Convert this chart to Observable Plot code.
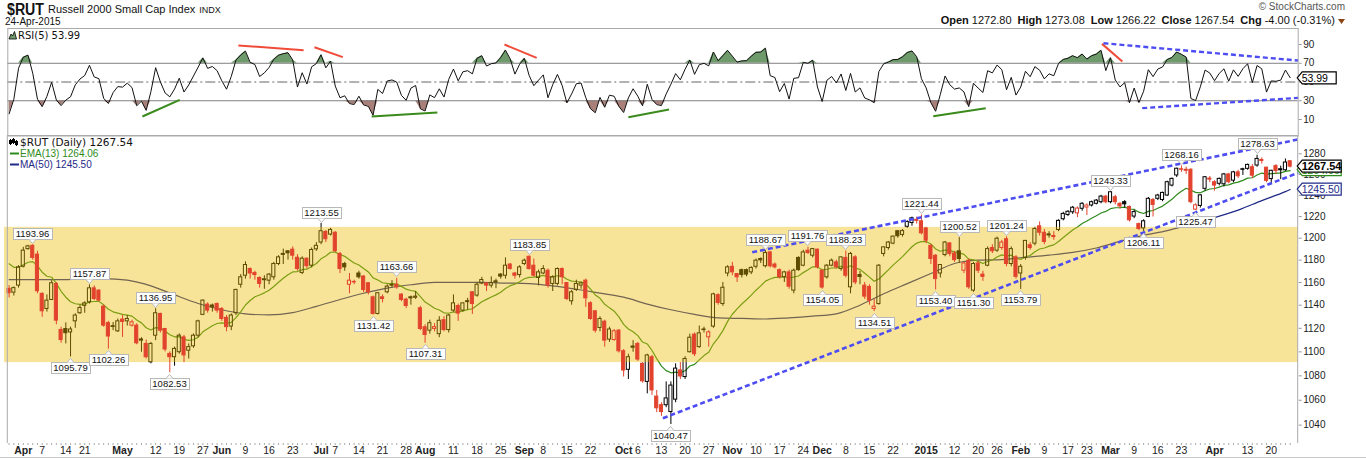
<!DOCTYPE html>
<html>
<head>
<meta charset="utf-8">
<script src="https://cdn.jsdelivr.net/npm/d3@7"></script>
<script src="https://cdn.jsdelivr.net/npm/@observablehq/plot@0.6"></script>
<style>
html,body{margin:0;padding:0;background:#fff;}
#wrap{position:relative;width:1366px;height:459px;overflow:hidden;background:#fff;}
#main,#rsi,#head{position:absolute;left:0;}
#main{top:130px;} #rsi{top:0;} #head{top:0;}
</style>
</head>
<body>
<div id="wrap"><div id="main"></div><div id="rsi"></div><div id="head"></div></div>
<script>
// ---------------- DATA ----------------
const symbol = "$RUT";
const indexName = "Russell 2000 Small Cap Index";
const exchange = "INDX";
const asOf = "24-Apr-2015";
const credit = "\u00A9 StockCharts.com";
const tradingStart = "2014-03-27";
const tradingEnd = "2015-04-24";
const holidays = ["2014-04-18","2014-05-26","2014-07-04","2014-09-01","2014-11-27","2014-12-25","2015-01-01","2015-01-19","2015-02-16","2015-04-03"];

const opens = [1154.3,1151,1157.2,1174,1190,1193,1185,1149.9,1136.7,1144.6,
1158.7,1118.6,1119.4,1116.5,1126,1133,1139.4,1142.5,1154.8,1152.8,
1138.8,1124.5,1121.8,1117.4,1127.5,1126,1122.3,1122.3,1110.5,1106.7,
1091.3,1113.7,1132.4,1119.4,1098.3,1095.5,1099.7,1112.3,1101,1104.7,
1113.7,1131.6,1140.5,1139.7,1141,1136.7,1129,1121.5,1133,1158,
1166,1172,1168.5,1164,1162.8,1161.6,1164.6,1176.5,1185.6,1188,
1189.5,1182.2,1168.5,1181.3,1175,1189.8,1196,1205.7,1203.3,1205,
1185.6,1176.5,1158,1160.5,1168,1165.3,1159.3,1146.9,1132.4,1146.9,
1151.3,1157.8,1158,1149.3,1144.9,1146.9,1146.5,1137.3,1120.9,1118,
1119.5,1115,1127,1118.5,1135.3,1139.3,1135.3,1143.5,1151.3,1148.4,
1159,1159,1157.2,1161,1167,1166,1176,1168,1166.6,1176.5,
1183,1175,1164,1168,1170.5,1158.7,1158.7,1172,1159.5,1143.4,
1153.4,1157.2,1161.6,1141.7,1134.7,1120.3,1125.7,1110.4,1110,1118,
1100.5,1085,1104.5,1106.7,1090,1075,1095.5,1063,1056,1056,
1050.5,1060.5,1084.5,1079,1099.7,1114.6,1104,1119,1112.3,1121.5,
1148.8,1141,1168,1174,1167.5,1171,1171,1169,1174,1181,
1174.5,1187,1176,1171,1164.6,1169,1152.8,1182,1175,1188.6,
1184,1189.5,1170.5,1164.6,1175,1178,1172,1182,1155.7,1182.5,
1166.6,1157.2,1156,1136.7,1141,1185.6,1191,1195,1206.4,1203,
1210.5,1214,1217,1215.6,1209,1193,1184,1168,1184.6,1195.2,
1186,1188,1170.5,1179.5,1152.8,1177,1167,1175,1191,1188.6,
1191,1199,1176.5,1182.5,1168,1182,1193.5,1195,1211,1205,
1203.5,1202,1207.5,1217.5,1221.5,1224,1223,1227.3,1228.5,1230.4,
1232,1233.5,1238.8,1233.5,1238.2,1232,1233.5,1229,1220,1213,
1209,1219.6,1235.6,1236.7,1235.6,1239.8,1249.3,1259,1265,1264.5,
1264.5,1226.5,1230,1246.2,1256,1252.5,1251,1250.5,1260,1254,
1262,1265,1265.4,1267,1268.6,1274,1266.5,1255.5,1268,1265,
1264,1272.80];

const highs = [1157.2,1156,1175,1191.6,1193.5,1193.96,1188,1151,1149,1161.6,
1160,1121,1124.7,1121,1132.5,1140,1143,1157.87,1157,1153.5,
1140,1126,1125,1128,1131,1131,1127,1124,1112,1110,
1108,1136.95,1133,1120,1100,1104,1115.2,1114,1106.7,1115.2,
1127,1144.6,1142,1141,1142,1138,1131,1132.4,1154,1167,
1178.5,1173,1170,1165,1166,1168,1178,1184,1190,1188.6,
1192,1185,1183,1182,1191,1196,1213.55,1207,1209,1206,
1187,1178,1168,1162,1170,1166,1160,1148,1151,1149,
1158,1161.6,1163.66,1150,1146,1148,1152,1139,1123,1127,
1124,1130,1130,1132,1149,1141,1142,1146,1152,1160,
1164.6,1160,1165,1163,1168,1182,1177,1169,1175,1181,
1183.85,1181,1171,1175,1172,1166,1173,1173,1160,1153,
1162,1160,1163,1143,1135,1130,1127,1121,1119,1119,
1102,1098,1109.5,1108,1091,1098,1097,1068,1058,1075,
1075,1090,1091,1096,1115,1116,1122,1121,1118,1150.5,
1150,1160,1175,1178,1168,1172,1172,1174,1181,1182,
1188.67,1188,1177.5,1172,1170,1171,1172,1183,1189,1191.76,
1190.5,1190,1171,1176,1181,1180,1183,1188.23,1187,1184,
1170,1160,1158,1145,1176,1192,1197,1202,1207,1208,
1216,1219.5,1219.5,1221.44,1210,1194,1185,1176,1197,1196,
1188,1200.52,1178,1181,1178,1179,1170,1192,1194,1201,
1198,1201.24,1192,1184,1176,1198,1196,1210,1215,1208,
1206,1206,1217,1224,1225.5,1229.5,1229,1233,1232,1234.5,
1236,1240,1240,1243.33,1240,1233,1235,1230,1226,1214,
1217,1238,1237,1241,1243,1253.5,1256.5,1266,1268.16,1267,
1265.5,1232,1240.5,1258,1258,1254,1256.5,1261,1261,1263,
1264,1266,1270,1269.5,1278.63,1276,1267,1264,1269.5,1268,
1275,1273.08];

const lows = [1146.4,1148,1155,1173,1189,1180,1150,1129.5,1134,1144,
1123,1107.3,1106.7,1095.79,1120,1132,1133,1141,1144,1143,
1121,1102.26,1118,1116.5,1112.3,1122,1121,1106,1099.7,1094,
1090,1109.5,1116,1100,1082.53,1088,1098,1091,1094,1103,
1112,1131,1133,1134,1133,1126,1117,1118,1131,1155,
1163,1163,1162,1155,1154,1158,1162,1175,1176,1180,
1180,1170,1167,1172,1173,1188,1194,1196,1202,1187,
1168,1170,1150,1158,1163,1151,1149,1131.42,1131.5,1142,
1150,1155,1154,1143,1137,1140,1145,1118,1107.31,1115,
1117,1112,1117,1116,1134,1126,1134,1136,1132,1147,
1158,1152,1155,1154.5,1163,1163,1171,1163,1164,1175,
1171,1164.6,1157,1167,1155,1152,1157,1158,1144,1140,
1152,1154,1138,1127,1116,1117,1104,1108,1109,1099,
1079,1077,1099.7,1092,1074,1065.2,1064,1050,1047,1054,
1040.47,1058,1077,1077,1099,1096,1103,1116,1104,1120,
1140,1139,1165,1166,1160,1164,1165,1167,1172,1177,
1173,1173,1172,1163,1160,1154,1150,1170,1174,1185,
1182,1172,1154.05,1163,1174,1172,1170,1164,1150,1158,
1158,1145,1140,1134.51,1140,1183,1189,1194,1200,1201,
1209,1211,1213,1203,1195,1176,1153.40,1164,1183,1183,
1178,1177,1168,1154,1151.30,1168,1161,1174,1186,1187,
1189,1174,1174,1163,1153.79,1180,1189,1193,1202,1194,
1200,1198,1206,1216,1220,1222,1219,1225,1221,1229,
1231,1232,1232,1232,1231,1227,1228,1215,1218,1207,
1206.11,1219,1219.6,1235,1234,1239,1248,1257,1262,1260,
1232,1225.47,1228,1244,1252,1244,1249,1248,1251,1252,
1256,1259,1264,1256,1267,1270,1252,1251,1260,1255,
1263,1266.22];

const closes = [1150.5,1155,1173.5,1188.6,1192.5,1182,1152.2,1134.7,1144,1159.3,
1126.6,1110,1115.8,1119,1131,1137.6,1141.6,1154.8,1145.4,1144,
1122.3,1113,1121.2,1126,1125.5,1128,1125.2,1107.2,1109.5,1095.5,
1106.7,1133,1118,1102,1095.5,1102.5,1113.7,1097,1104,1113.7,
1126,1144,1135.3,1138.2,1135.3,1128,1121,1131,1153.4,1164.6,
1175.6,1168,1166.6,1158.7,1162,1167,1176.5,1182.5,1184.8,1186.2,
1184,1172,1181.3,1174.5,1189.2,1193,1206.4,1199,1207.6,1188,
1172,1173.5,1161.6,1160,1164.6,1153.4,1151.3,1132.4,1150.5,1145.4,
1156.3,1157.2,1155.7,1144.6,1139.3,1146,1147.5,1119.4,1114.3,1124.4,
1121,1126.5,1118.5,1131,1141.6,1132.7,1141.6,1142.7,1141,1158,
1162.2,1157.2,1159.5,1160.2,1165.2,1175,1172,1166,1173.5,1179.5,
1172,1166,1169,1172,1157.2,1164.6,1172,1164.6,1145.4,1151.3,
1158.7,1159.2,1146,1128,1118,1128,1109.5,1119,1117.5,1100.5,
1084.4,1095.5,1103.5,1093.5,1075.5,1097,1068,1053.5,1050.5,1061.5,
1072,1086,1079.5,1094,1112,1098,1115.7,1118.5,1116.5,1149.5,
1142,1155.3,1173.5,1169,1164.6,1166.6,1167,1173,1179.5,1179.8,
1186.5,1174.5,1173.5,1164.6,1169,1156.3,1170.5,1171,1187,1186.5,
1190,1173.5,1155.5,1175,1179.5,1173.5,1182.5,1166,1185.6,1160,
1164.8,1147.5,1144,1138.7,1175,1191.6,1196,1201.4,1201.8,1206.5,
1215,1218.4,1216,1204.5,1197.7,1181,1163,1175.6,1196,1185.5,
1180,1181,1177,1155.7,1176.5,1170.5,1165,1190,1188,1199.5,
1196,1176.5,1190,1165,1174,1197.5,1191,1208.5,1205,1196.5,
1202.5,1201,1216,1222.5,1224.5,1228.3,1227.5,1232,1230.4,1233.5,
1235,1238.8,1233.5,1242.9,1233.5,1229.5,1231.5,1216.5,1224.2,1208.5,
1215.6,1236.7,1230.9,1239.8,1242.3,1252.5,1255.7,1265.5,1264.5,1263.5,
1233.5,1230.5,1240,1257.3,1255,1249.3,1255.7,1260,1252.5,1262,
1258.2,1264.5,1269.2,1258.8,1275,1273,1253.8,1263.5,1263.2,1264,
1271.54,1267.54];

// 50-day moving average (every 5th session)
const maIndex = [0,5,10,15,20,25,30,35,40,45,50,55,60,65,70,75,80,85,90,95,100,105,110,115,120,125,130,135,140,145,150,155,160,165,170,175,180,185,190,195,200,205,210,215,220,225,230,235,240,245,250,255,260,265,270,271];
const maValues = [1162.5,1162.5,1162.5,1163,1163.5,1162,1157,1149,1141.5,1136,1132.5,1131.5,1133.5,1139,1145,1150.5,1155,1158,1160,1160,1160,1159.5,1159,1157,1154,1150.5,1147,1141,1136,1132,1129,1128.5,1128,1129,1130.5,1132.5,1140,1150,1159,1168,1177,1180,1180.5,1182.5,1184.5,1187,1191,1197,1202.5,1207,1213,1219,1226,1235,1243.5,1245.5];

const emaSeed = 1181;            // EMA(13) level just before the first session
const rsiSeedGain = 0.8, rsiSeedLoss = 4.2;
const emaLast = 1264.06, maLast = 1245.50, rsiLast = 53.99;
const bandLow = 1091, bandHigh = 1210;
const priceTicks = [1040,1060,1080,1100,1120,1140,1160,1180,1200,1220,1240,1260,1280];
const rsiTicks = [10,30,50,70,90];
const rsiBands = [30,70];

const tickDates = ["2014-04-01","2014-04-07","2014-04-14","2014-04-21","2014-05-01","2014-05-12","2014-05-19","2014-05-27","2014-06-02","2014-06-09","2014-06-16","2014-06-23","2014-07-01","2014-07-07","2014-07-14","2014-07-21","2014-07-28","2014-08-01","2014-08-11","2014-08-18","2014-08-25","2014-09-02","2014-09-08","2014-09-15","2014-09-22","2014-10-01","2014-10-06","2014-10-13","2014-10-20","2014-10-27","2014-11-03","2014-11-10","2014-11-17","2014-11-24","2014-12-01","2014-12-08","2014-12-15","2014-12-22","2015-01-02","2015-01-12","2015-01-20","2015-01-26","2015-02-02","2015-02-09","2015-02-17","2015-02-23","2015-03-02","2015-03-09","2015-03-16","2015-03-23","2015-04-01","2015-04-13","2015-04-20"];
const tickLabels = ["Apr","7","14","21","May","12","19","27","Jun","9","16","23","Jul","7","14","21","28","Aug","11","18","25","Sep","8","15","22","Oct","6","13","20","27","Nov","10","17","24","Dec","8","15","22","2015","12","20","26","Feb","9","17","23","Mar","9","16","23","Apr","13","20"];

const annIdx = [5,13,17,21,31,34,66,77,82,88,110,140,160,169,172,177,183,193,196,201,204,211,214,233,240,248,251,264];
const annVal = [1193.96,1095.79,1157.87,1102.26,1136.95,1082.53,1213.55,1131.42,1163.66,1107.31,1183.85,1040.47,1188.67,1191.76,1154.05,1188.23,1134.51,1221.44,1153.40,1200.52,1151.30,1201.24,1153.79,1243.33,1206.11,1268.16,1225.47,1278.63];
const annSide = ["above","below","above","below","above","below","above","below","above","below","above","below","above","above","below","above","below","above","below","above","below","above","below","above","below","above","below","above"];

// trend lines on price (session index, price)
const trendX1 = [138.3, 157.2], trendY1 = [1045.5, 1187.1];
const trendX2 = [272.7, 272.7], trendY2 = [1261.5, 1294.2];
// RSI divergence lines (session index, RSI)
const redX1 = [48.5, 64.6, 104.8, 231.2], redY1 = [89, 87.1, 90, 90.7];
const redX2 = [62.3, 70.6, 111.6, 235.5], redY2 = [84, 76.5, 75.8, 71.9];
const greenX1 = [28.2, 76.7, 131, 195.5], greenY1 = [13.2, 13.2, 12.5, 13.5];
const greenX2 = [36.1, 90.6, 139.6, 206.6], greenY2 = [31, 17.5, 20.7, 22];
const blueX1 = [231.5, 239.7], blueY1 = [91.4, 22.1];
const blueX2 = [272.7, 272.7], blueY2 = [72.9, 33.1];

// ---------------- LAYOUT ----------------
const W = 1366;
const plotLeft = 7.3, plotRight = 1297.7;
const xDomain = [-0.275, 272.7];
const yDomain = [1025.5, 1297.4];
const rsiDomain = [-7.6, 107.1];
const RED = "#e2432d", GREEN = "#2f8a1c", NAVY = "#1f2a88", BLUE = "#4d4df2";
const FONT = "'Liberation Sans', Arial, sans-serif";

// ---------------- DERIVED ----------------
const hol = new Set(holidays);
const fmt = d3.utcFormat("%Y-%m-%d");
const days = d3.utcDays(new Date(tradingStart), d3.utcDay.offset(new Date(tradingEnd), 1))
  .filter(d => d.getUTCDay() !== 0 && d.getUTCDay() !== 6 && !hol.has(fmt(d)));
const dayIndex = new Map(days.map((d, i) => [fmt(d), i]));

const candles = closes.map((c, i) => {
  const o = opens[i];
  const prev = i ? closes[i - 1] : o;
  return {i, o, h: highs[i], l: lows[i], c, top: Math.max(o, c), bot: Math.min(o, c), hollow: c >= o, red: c < prev};
});
const blackHollow = candles.filter(d => !d.red && d.hollow);
const blackFilled = candles.filter(d => !d.red && !d.hollow);
const redHollow = candles.filter(d => d.red && d.hollow);
const redFilled = candles.filter(d => d.red && !d.hollow);
const blackC = candles.filter(d => !d.red), redC = candles.filter(d => d.red);

const k = 2 / 14;
let e = emaSeed;
const emaRows = closes.map((c, i) => ({i, v: (e = e + k * (c - e))}));
const maRows = maIndex.map((i, j) => ({i, v: maValues[j]}));

let ag = rsiSeedGain, al = rsiSeedLoss;
const rsiRows = closes.map((c, i) => {
  if (i > 0) {
    const ch = c - closes[i - 1];
    ag = (ag * 4 + Math.max(ch, 0)) / 5;
    al = (al * 4 + Math.max(-ch, 0)) / 5;
  }
  return {i, r: al === 0 ? 100 : 100 - 100 / (1 + ag / al)};
});

const ticks = tickDates.map((d, j) => ({i: dayIndex.get(d), label: tickLabels[j], bold: isNaN(+tickLabels[j]) || tickLabels[j].length === 4}));
const trendRows = trendX1.map((x, j) => ({x1: x, y1: trendY1[j], x2: trendX2[j], y2: trendY2[j]}));
const mk = (X1, Y1, X2, Y2) => X1.map((x, j) => ({x1: x, y1: Y1[j], x2: X2[j], y2: Y2[j]}));
const bw = 0.33;

// ---------------- MAIN PRICE PANEL ----------------
const main = Plot.plot({
  width: W, height: 329,
  marginTop: 5.7, marginBottom: 16, marginLeft: plotLeft, marginRight: W - plotRight,
  x: {domain: xDomain},
  y: {type: "log", domain: yDomain},
  style: {background: "transparent", fontFamily: FONT, fontSize: "10px", color: "#222", overflow: "visible"},
  marks: [
    Plot.line(maRows, {x: "i", y: "v", stroke: NAVY, strokeWidth: 1.2, curve: "monotone-x"}),
    Plot.line(emaRows, {x: "i", y: "v", stroke: GREEN, strokeWidth: 1.2}),
    Plot.ruleX(blackC, {x: "i", y1: "top", y2: "h", stroke: "#000"}),
    Plot.ruleX(blackC, {x: "i", y1: "l", y2: "bot", stroke: "#000"}),
    Plot.rect(blackHollow, {x1: d => d.i - bw, x2: d => d.i + bw, y1: "bot", y2: "top", fill: "none", stroke: "#000"}),
    Plot.rect(blackFilled, {x1: d => d.i - bw, x2: d => d.i + bw, y1: "bot", y2: "top", fill: "#000", stroke: "#000"}),
    Plot.rect([{y1: bandLow, y2: bandHigh}], {x1: () => xDomain[0] - 0.7, x2: () => xDomain[1], y1: "y1", y2: "y2", fill: "#eebb00", fillOpacity: 0.4, ariaLabel: "band"}),
    Plot.ruleX(redC, {x: "i", y1: "top", y2: "h", stroke: RED}),
    Plot.ruleX(redC, {x: "i", y1: "l", y2: "bot", stroke: RED}),
    Plot.rect(redHollow, {x1: d => d.i - bw, x2: d => d.i + bw, y1: "bot", y2: "top", fill: "none", stroke: RED}),
    Plot.rect(redFilled, {x1: d => d.i - bw, x2: d => d.i + bw, y1: "bot", y2: "top", fill: RED, stroke: RED}),
    Plot.link(trendRows, {x1: "x1", y1: "y1", x2: "x2", y2: "y2", stroke: BLUE, strokeWidth: 2.6, strokeDasharray: "5,3"}),
    Plot.axisY(priceTicks, {anchor: "right", tickSize: 3, tickPadding: 2, label: null, stroke: "#999", fill: "#222", fontSize: 10, tickFormat: d => String(d)}),
    Plot.axisX(d3.range(closes.length), {tickSize: 2, tickFormat: () => "", label: null, stroke: "#aaa"}),
    Plot.text(ticks.filter(d => d.bold), {x: "i", text: "label", frameAnchor: "bottom", lineAnchor: "top", dy: 3.5, fontWeight: "bold", fontSize: 10.5, fill: "#222"}),
    Plot.text(ticks.filter(d => !d.bold), {x: "i", text: "label", frameAnchor: "bottom", lineAnchor: "top", dy: 3.5, fontSize: 10.5, fill: "#222"})
  ]
});
document.getElementById("main").appendChild(main);

function scaleFn(chart, name, fallback) {
  try { const s = chart.scale(name); if (s && typeof s.apply === "function") return v => s.apply(v); } catch (err) {}
  return fallback;
}
const sx = scaleFn(main, "x", d3.scaleLinear(xDomain, [plotLeft, plotRight]));
const sy = scaleFn(main, "y", d3.scaleLog(yDomain, [313, 5.7]));

// value labels (drawn beneath the translucent band)
const svgM = d3.select(main);
const bandNode = main.querySelector('[aria-label="band"]');
const lg = d3.create("svg:g").attr("font-family", FONT).attr("font-size", 9.5).attr("text-anchor", "middle");
annIdx.forEach((idx, j) => {
  const val = annVal[j], side = annSide[j];
  const x = Math.round(sx(idx)) + 0.5, y = sy(val);
  const txt = val.toFixed(2);
  const w = Math.round((txt.length - 1) * 5.28 + 2.64 + 5);
  const h = 11, gap = 5.5;
  const top = Math.round(side === "above" ? y - gap - h : y + gap) + 0.5;
  const g = lg.append("g");
  g.append("rect").attr("x", Math.round(x - w / 2) + 0.5).attr("y", top).attr("width", w).attr("height", h)
    .attr("fill", "#fff").attr("stroke", "#b8b8b8");
  if (side === "above") {
    const b = top + h;
    g.append("path").attr("d", `M${x - 3.5},${b} L${x},${b + 4} L${x + 3.5},${b}`).attr("fill", "#fff").attr("stroke", "#b8b8b8");
  } else {
    g.append("path").attr("d", `M${x - 3.5},${top} L${x},${top - 4} L${x + 3.5},${top}`).attr("fill", "#fff").attr("stroke", "#b8b8b8");
  }
  g.append("text").attr("x", x).attr("y", top + 8.7).attr("text-anchor", "middle").attr("fill", "#111").text(txt);
});
if (bandNode) main.insertBefore(lg.node(), bandNode); else main.appendChild(lg.node());

// frame lines
const fr = svgM.append("g").attr("stroke", "#aaa").attr("fill", "none");
fr.append("line").attr("x1", plotLeft).attr("x2", plotRight).attr("y1", 5.5).attr("y2", 5.5);
fr.append("line").attr("x1", plotLeft).attr("x2", plotLeft).attr("y1", 5.5).attr("y2", 313);
fr.append("line").attr("x1", plotRight).attr("x2", plotRight).attr("y1", 5.5).attr("y2", 313);
fr.append("line").attr("x1", 0).attr("x2", W).attr("y1", 327.5).attr("y2", 327.5).attr("stroke", "#c8c8c8");

// legend
const leg = svgM.append("g").attr("font-family", FONT).attr("text-anchor", "start");
const ci = leg.append("g").attr("stroke", "#000").attr("fill", "#000");
[[10.5, 9, 15], [13.5, 8, 14], [16.5, 10, 16]].forEach(([x, a, b]) => {
  ci.append("line").attr("x1", x).attr("x2", x).attr("y1", a).attr("y2", b);
  ci.append("rect").attr("x", x - 1).attr("y", a + 1.5).attr("width", 2).attr("height", 3);
});
leg.append("text").attr("x", 20).attr("y", 16).attr("text-anchor", "start").attr("font-family", "'DejaVu Sans', sans-serif").attr("font-size", 10.5).attr("fill", "#111")
  .text(`${symbol} (Daily) ${closes[closes.length - 1].toFixed(2)}`);
leg.append("line").attr("x1", 10).attr("x2", 19).attr("y1", 23.5).attr("y2", 23.5).attr("stroke", GREEN).attr("stroke-width", 2);
leg.append("text").attr("x", 20).attr("y", 27).attr("text-anchor", "start").attr("font-size", 10).attr("fill", GREEN).text(`EMA(13) ${emaLast.toFixed(2)}`);
leg.append("line").attr("x1", 10).attr("x2", 19).attr("y1", 34.5).attr("y2", 34.5).attr("stroke", NAVY).attr("stroke-width", 2);
leg.append("text").attr("x", 20).attr("y", 38).attr("text-anchor", "start").attr("font-size", 10).attr("fill", NAVY).text(`MA(50) ${maLast.toFixed(2)}`);

// right-side value tags
function tag(sel, y, text, stroke, color, bold, w) {
  const x0 = plotRight - 0.5, h = 12;
  const g = sel.append("g").attr("text-anchor", "start");
  g.append("path").attr("d", `M${x0},${y} L${x0 + 5},${y - h / 2} L${x0 + w},${y - h / 2} L${x0 + w},${y + h / 2} L${x0 + 5},${y + h / 2} Z`)
    .attr("fill", "#fff").attr("stroke", stroke).attr("stroke-width", 1.2);
  g.append("text").attr("x", x0 + 4.5).attr("y", y + 4).attr("text-anchor", "start").attr("font-family", FONT).attr("font-size", bold ? 11 : 10.5)
    .attr("font-weight", bold ? "bold" : "normal").attr("fill", color).text(text);
}
tag(svgM, sy(emaLast), emaLast.toFixed(2), GREEN, GREEN, false, 44);
tag(svgM, sy(closes[closes.length - 1]), closes[closes.length - 1].toFixed(2), "#000", "#000", true, 44);
tag(svgM, sy(maLast), maLast.toFixed(2), NAVY, NAVY, false, 44);

// ---------------- RSI PANEL ----------------
const rsiPlot = Plot.plot({
  width: W, height: 136,
  marginTop: 28, marginBottom: 0.5, marginLeft: plotLeft, marginRight: W - plotRight,
  x: {domain: xDomain, axis: null},
  y: {domain: rsiDomain},
  style: {background: "transparent", fontFamily: FONT, fontSize: "10px", color: "#222", overflow: "visible"},
  marks: [
    Plot.areaY(rsiRows, {x: "i", y1: () => 70, y2: d => Math.max(d.r, 70), fill: "#6f9b6c"}),
    Plot.areaY(rsiRows, {x: "i", y1: () => 30, y2: d => Math.min(d.r, 30), fill: "#a98079"}),
    Plot.ruleY(rsiBands, {stroke: "#808080"}),
    Plot.ruleY([50], {stroke: "#666", strokeDasharray: "10,3,2,3"}),
    Plot.lineY(rsiRows, {x: "i", y: "r", stroke: "#111", strokeWidth: 1}),
    Plot.link(mk(redX1, redY1, redX2, redY2), {x1: "x1", y1: "y1", x2: "x2", y2: "y2", stroke: "#f04a38", strokeWidth: 2}),
    Plot.link(mk(greenX1, greenY1, greenX2, greenY2), {x1: "x1", y1: "y1", x2: "x2", y2: "y2", stroke: "#3a8a1c", strokeWidth: 2}),
    Plot.link(mk(blueX1, blueY1, blueX2, blueY2), {x1: "x1", y1: "y1", x2: "x2", y2: "y2", stroke: BLUE, strokeWidth: 2.4, strokeDasharray: "5,3"}),
    Plot.axisY(rsiTicks, {anchor: "right", tickSize: 3, tickPadding: 2, label: null, stroke: "#999", fill: "#222", fontSize: 10, tickFormat: d => String(d)}),
    Plot.frame({stroke: "#aaa"})
  ]
});
document.getElementById("rsi").appendChild(rsiPlot);
const ryFallback = d3.scaleLinear(rsiDomain, [135.5, 28]);
const ry = scaleFn(rsiPlot, "y", ryFallback);
const svgR = d3.select(rsiPlot);
svgR.append("path").attr("d", "M9,39 L11,34 L12.5,36 L14.5,31.5 L16.5,39 Z").attr("fill", "#6f9b6c").attr("stroke", "#000").attr("stroke-width", 0.8);
svgR.append("text").attr("x", 18).attr("y", 39).attr("text-anchor", "start").attr("font-family", "'DejaVu Sans', sans-serif").attr("font-size", 10).attr("fill", "#111")
  .text(`RSI(5) ${rsiLast.toFixed(2)}`);
tag(svgR, ry(rsiLast), rsiLast.toFixed(2), "#000", "#000", false, 39);

// ---------------- HEADER ----------------
const head = d3.select("#head").append("svg").attr("width", W).attr("height", 28).attr("font-family", FONT).attr("text-anchor", "start");
head.append("text").attr("x", 7).attr("y", 14.5).attr("font-family", "'Liberation Sans Narrow','Liberation Sans',sans-serif")
  .attr("font-weight", "bold").attr("font-size", 16).attr("fill", "#111")
  .attr("textLength", 37).attr("lengthAdjust", "spacingAndGlyphs").text(symbol);
const t1 = head.append("text").attr("x", 48).attr("y", 13).attr("font-size", 11).attr("fill", "#111");
t1.append("tspan").text(indexName);
t1.append("tspan").attr("dx", 4).attr("font-size", 9).text(exchange);
head.append("text").attr("x", 5).attr("y", 25).attr("font-size", 10).attr("fill", "#111").text(asOf);
head.append("text").attr("x", 1345).attr("y", 10).attr("text-anchor", "end").attr("font-size", 10).attr("fill", "#555").text(credit);
const n = closes.length - 1;
const chg = closes[n] - closes[n - 1];
const pct = chg / closes[n - 1] * 100;
const oh = head.append("text").attr("x", 1335).attr("y", 24).attr("text-anchor", "end").attr("font-size", 11).attr("fill", "#111");
[["Open", opens[n]], ["High", highs[n]], ["Low", lows[n]], ["Close", closes[n]]].forEach(([lab, v], j) => {
  oh.append("tspan").attr("font-weight", "bold").attr("dx", j ? 6 : 0).text(lab);
  oh.append("tspan").attr("dx", 3).text(v.toFixed(2));
});
oh.append("tspan").attr("font-weight", "bold").attr("dx", 6).text("Chg");
oh.append("tspan").attr("dx", 3).text(`${chg.toFixed(2)} (${pct.toFixed(2)}%)`);
head.append("path").attr("d", "M1338,19 L1345,19 L1341.5,24 Z").attr("fill", "#8b4513");
</script>
</body>
</html>
